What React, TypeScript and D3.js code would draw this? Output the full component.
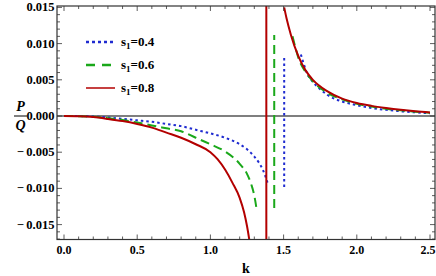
import React from "react";
import * as d3 from "d3";

// legend / series
const legendLabels = ["0.4", "0.6", "0.8"];
const seriesColors = ["#1f2bd0", "#1aa81a", "#b30000"];
const seriesDash = ["2.5,3", "9,5", "none"];

// s1 = 0.4 (blue dotted)
const kLeft04 = [0, 0.1, 0.2, 0.3, 0.4, 0.5, 0.6, 0.7, 0.8, 0.9, 1.0, 1.1, 1.2, 1.25, 1.3, 1.33, 1.36, 1.39];
const vLeft04 = [0, -0.00001, -0.00007, -0.0002, -0.0004, -0.0006, -0.0008, -0.0011, -0.0014, -0.0019, -0.0024, -0.003, -0.0039, -0.0046, -0.0056, -0.0064, -0.0075, -0.0092];
const kRight04 = [1.618, 1.636, 1.656, 1.7, 1.75, 1.8, 1.9, 2.0, 2.1, 2.2, 2.3, 2.4, 2.5];
const vRight04 = [0.0085, 0.0073, 0.0061, 0.0047, 0.0037, 0.0029, 0.002, 0.0015, 0.0011, 0.00085, 0.00065, 0.0005, 0.00038];
const pole04 = [1.504, -0.0098, 0.0082];

// s1 = 0.6 (green dashed)
const kLeft06 = [0, 0.1, 0.2, 0.3, 0.4, 0.5, 0.6, 0.7, 0.8, 0.9, 1.0, 1.1, 1.2, 1.25, 1.28, 1.3, 1.315];
const vLeft06 = [0, -0.00002, -0.0001, -0.0003, -0.00055, -0.0009, -0.0013, -0.0017, -0.0021, -0.003, -0.0039, -0.0049, -0.0066, -0.008, -0.0095, -0.011, -0.0128];
const kRight06 = [1.561, 1.58, 1.6, 1.65, 1.7, 1.8, 1.9, 2.0, 2.1, 2.2, 2.3, 2.4, 2.5];
const vRight06 = [0.011, 0.0095, 0.0081, 0.0061, 0.0048, 0.0032, 0.0023, 0.0017, 0.0013, 0.001, 0.00078, 0.0006, 0.00046];
const pole06 = [1.436, -0.0127, 0.0112];

// s1 = 0.8 (red solid)
const kLeft08 = [0, 0.1, 0.2, 0.3, 0.4, 0.5, 0.6, 0.7, 0.8, 0.9, 1.0, 1.05, 1.1, 1.15, 1.2, 1.23, 1.25, 1.265];
const vLeft08 = [0, -0.00003, -0.00015, -0.0004, -0.0007, -0.0011, -0.0016, -0.0023, -0.003, -0.0039, -0.005, -0.006, -0.0074, -0.0092, -0.0113, -0.0133, -0.0152, -0.017];
const kRight08 = [1.504, 1.52, 1.55, 1.6, 1.65, 1.7, 1.8, 1.9, 2.0, 2.1, 2.2, 2.3, 2.4, 2.5];
const vRight08 = [0.015, 0.0135, 0.0112, 0.0083, 0.0063, 0.005, 0.0034, 0.0024, 0.0018, 0.0014, 0.0011, 0.00085, 0.00065, 0.0005];
const pole08 = [1.382, -0.0175, 0.0155];

// tick labels
const xTicks = [0, 0.5, 1.0, 1.5, 2.0, 2.5];
const yTicks = [-0.015, -0.01, -0.005, 0, 0.005, 0.01, 0.015];

const W = 436;
const H = 276;
const fL = 57;
const fR = 435;
const fT = 6;
const fB = 239.5;
const font = "Liberation Serif, Times New Roman, DejaVu Serif, serif";

const series = [
  { kl: kLeft04, vl: vLeft04, kr: kRight04, vr: vRight04, pole: pole04 },
  { kl: kLeft06, vl: vLeft06, kr: kRight06, vr: vRight06, pole: pole06 },
  { kl: kLeft08, vl: vLeft08, kr: kRight08, vr: vRight08, pole: pole08 },
];

const App = () => {
  const x = d3.scaleLinear().domain([0, 2.5]).range([64, 430]);
  const y = d3.scaleLinear().domain([-0.015, 0.015]).range([224.6, 7.4]);

  const line = d3
    .line<[number, number]>()
    .x((d) => x(d[0]))
    .y((d) => y(d[1]))
    .curve(d3.curveMonotoneX);

  const xMinor = d3.range(0, 26).map((i) => i / 10);
  const yMinor = d3.range(-17, 16).map((i) => i / 1000);

  const fmtY = (v: number) =>
    v < 0 ? "\u2212\u2009" + d3.format(".3f")(-v) : d3.format(".3f")(v);

  const txt = { fontFamily: font, fontWeight: 700 } as React.CSSProperties;

  return (
    <svg
      width={W}
      height={H}
      style={{ position: "absolute", left: 0, top: 0, background: "#fff" }}
    >
      <defs>
        <clipPath id="plot">
          <rect x={fL} y={fT} width={fR - fL} height={fB - fT} />
        </clipPath>
      </defs>

      {/* zero line */}
      <line x1={fL} x2={fR} y1={y(0)} y2={y(0)} stroke="#000" strokeWidth={1.1} />

      {/* curves */}
      <g clipPath="url(#plot)" fill="none">
        {series.map((s, i) => (
          <g key={i} stroke={seriesColors[i]} strokeWidth={2} strokeDasharray={seriesDash[i]}>
            <path d={line(s.kl.map((k, j) => [k, s.vl[j]] as [number, number])) || ""} />
            <path d={line([[s.pole[0], s.pole[1]], [s.pole[0], s.pole[2]]]) || ""} />
            <path d={line(s.kr.map((k, j) => [k, s.vr[j]] as [number, number])) || ""} />
          </g>
        ))}
      </g>

      {/* frame */}
      <rect x={fL} y={fT} width={fR - fL} height={fB - fT} fill="none" stroke="#333" strokeWidth={1.2} />

      {/* x ticks */}
      {xMinor.map((v, i) => {
        const len = i % 5 === 0 ? 5 : 3;
        return (
          <g key={"xt" + i} stroke="#333" strokeWidth={0.8}>
            <line x1={x(v)} x2={x(v)} y1={fB} y2={fB - len} />
            <line x1={x(v)} x2={x(v)} y1={fT} y2={fT + len} />
          </g>
        );
      })}
      {xTicks.map((v) => (
        <text
          key={"xl" + v}
          x={Math.min(x(v), W - 8)}
          y={253.5}
          textAnchor="middle"
          fontSize={12}
          style={txt}
        >
          {d3.format(".1f")(v)}
        </text>
      ))}

      {/* y ticks */}
      {yMinor.map((v, i) => {
        const len = Math.round(v * 1000) % 5 === 0 ? 5 : 3;
        return (
          <g key={"yt" + i} stroke="#333" strokeWidth={0.8}>
            <line x1={fL} x2={fL + len} y1={y(v)} y2={y(v)} />
            <line x1={fR} x2={fR - len} y1={y(v)} y2={y(v)} />
          </g>
        );
      })}
      {yTicks.map((v) => (
        <text key={"yl" + v} x={54.5} y={y(v) + 4} textAnchor="end" fontSize={12.5} style={txt}>
          {fmtY(v)}
        </text>
      ))}

      {/* axis labels */}
      <text x={20.5} y={111} textAnchor="middle" fontSize={14} fontStyle="italic" style={txt}>P</text>
      <line x1={14} x2={27} y1={116} y2={116} stroke="#000" strokeWidth={1} />
      <text x={20.5} y={129.5} textAnchor="middle" fontSize={14} fontStyle="italic" style={txt}>Q</text>
      <text x={246} y={273} textAnchor="middle" fontSize={14} style={txt}>k</text>

      {/* legend */}
      {legendLabels.map((lab, i) => {
        const ly = 42 + i * 23;
        return (
          <g key={"lg" + i}>
            <line
              x1={86}
              x2={115}
              y1={ly}
              y2={ly}
              stroke={seriesColors[i]}
              strokeWidth={i === 2 ? 1.5 : 2.5}
              strokeDasharray={i === 0 ? "3,3" : i === 1 ? "9,7" : "none"}
            />
            <text x={121} y={ly + 4} fontSize={13} style={txt}>
              s<tspan fontSize={9} dy={3}>1</tspan>
              <tspan dy={-3}>=</tspan>
              {lab}
            </text>
          </g>
        );
      })}
    </svg>
  );
};

export default App;
